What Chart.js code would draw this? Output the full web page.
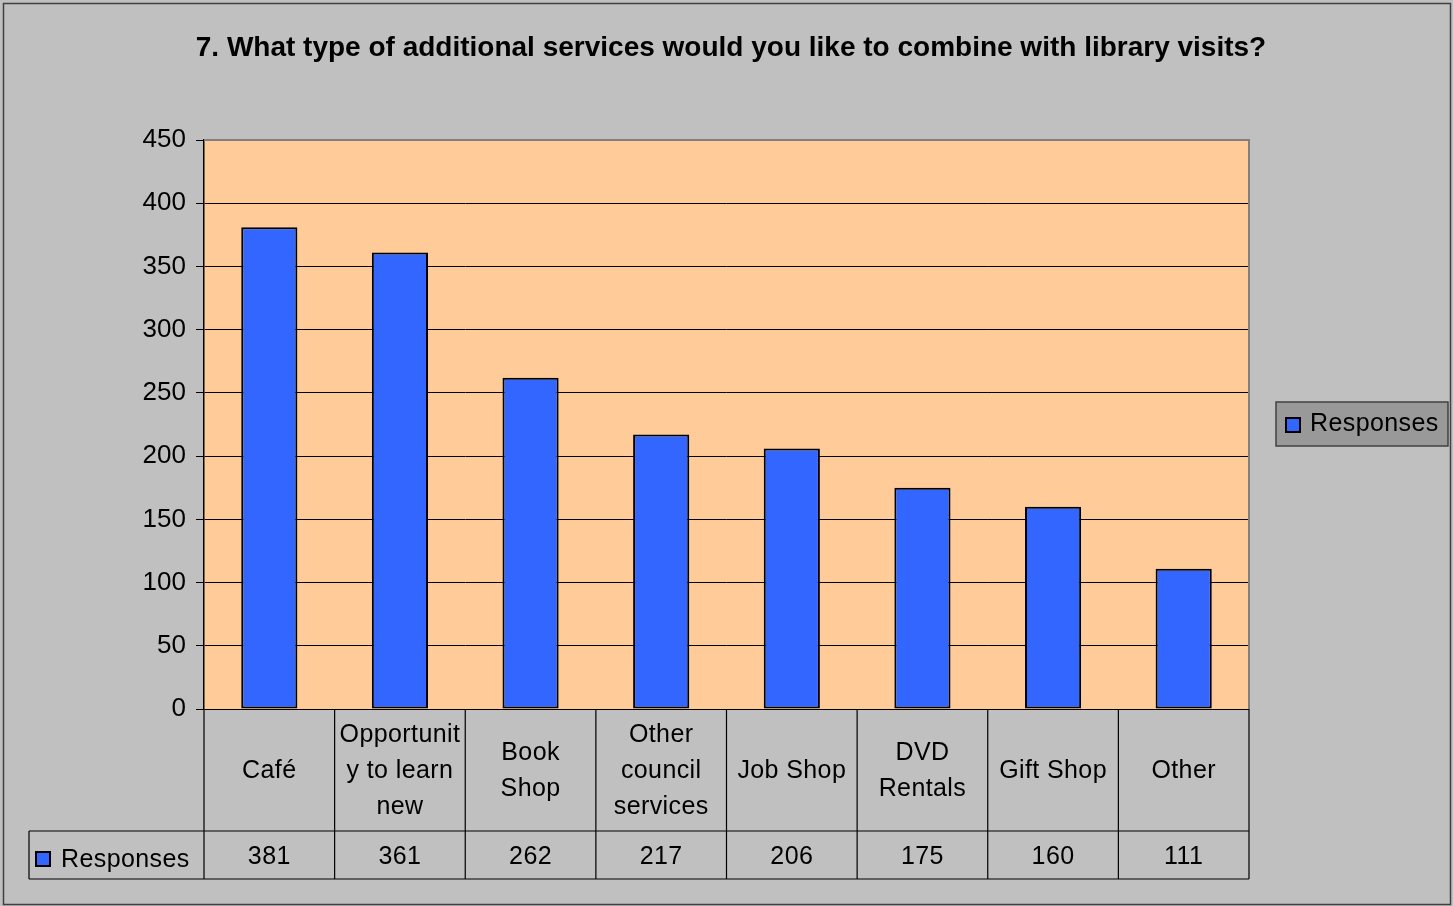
<!DOCTYPE html>
<html>
<head>
<meta charset="utf-8">
<script src="https://cdn.jsdelivr.net/npm/chart.js@4.4.1/dist/chart.umd.min.js"></script>
<style>
  html, body { margin: 0; padding: 0; background: #c0c0c0; }
  #wrap { width: 1453px; height: 906px; position: relative; }
</style>
</head>
<body>
<div id="wrap"><canvas id="chart" width="1453" height="906"></canvas></div>
<script>
// question title
const titleText = '7. What type of additional services would you like to combine with library visits?'

// categories as wrapped in the table cells
const categories = [
  ['Café'],
  ['Opportunit', 'y to learn', 'new'],
  ['Book', 'Shop'],
  ['Other', 'council', 'services'],
  ['Job Shop'],
  ['DVD', 'Rentals'],
  ['Gift Shop'],
  ['Other']
]

const seriesName = 'Responses'
const responses = [381, 361, 262, 217, 206, 175, 160, 111]

const yMax = 450
const yStep = 50

const FONT = '"Liberation Sans", Arial, sans-serif'
const BLUE = '#3366ff'

// background, plot fill, outer frame
const backdrop = {
  id: 'backdrop',
  beforeDraw(chart) {
    const ctx = chart.ctx
    const a = chart.chartArea
    ctx.save()
    ctx.fillStyle = '#c0c0c0'
    ctx.fillRect(0, 0, chart.width, chart.height)
    ctx.strokeStyle = '#404040'
    ctx.lineWidth = 1.5
    ctx.strokeRect(3.5, 3.5, chart.width - 6, chart.height - 5)
    ctx.fillStyle = '#ffcc99'
    ctx.fillRect(a.left, a.top, a.right - a.left, a.bottom - a.top)
    ctx.restore()
  }
}

function swatch(ctx, x, y) {
  ctx.fillStyle = BLUE
  ctx.fillRect(x, y, 14, 14)
  ctx.strokeStyle = '#000'
  ctx.lineWidth = 2
  ctx.strokeRect(x, y, 14, 14)
}

// title, data table, legend
const extras = {
  id: 'extras',
  afterDraw(chart) {
    const ctx = chart.ctx
    const a = chart.chartArea
    const x = chart.scales.x
    const half = (x.getPixelForValue(1) - x.getPixelForValue(0)) / 2
    ctx.save()

    // plot border (top/right grey)
    ctx.strokeStyle = '#808080'
    ctx.lineWidth = 2
    ctx.beginPath()
    ctx.moveTo(a.left, a.top)
    ctx.lineTo(a.right, a.top)
    ctx.lineTo(a.right, a.bottom)
    ctx.stroke()

    // title
    ctx.fillStyle = '#000'
    ctx.font = 'bold 28px ' + FONT
    ctx.textAlign = 'center'
    ctx.textBaseline = 'middle'
    ctx.fillText(titleText, 731, 48)

    // table grid
    const rowTop = a.bottom
    const rowMid = 831
    const rowBot = 879
    ctx.strokeStyle = '#000'
    ctx.lineWidth = 1.2
    ctx.beginPath()
    ctx.moveTo(29, rowMid); ctx.lineTo(a.right, rowMid)
    ctx.moveTo(29, rowBot); ctx.lineTo(a.right, rowBot)
    ctx.moveTo(29, rowMid); ctx.lineTo(29, rowBot)
    categories.forEach((c, i) => {
      const bx = x.getPixelForValue(i) - half
      ctx.moveTo(bx, rowTop); ctx.lineTo(bx, rowBot)
    })
    ctx.moveTo(a.right, rowTop); ctx.lineTo(a.right, rowBot)
    ctx.stroke()

    // category labels and values
    ctx.font = '25px ' + FONT
    ctx.letterSpacing = '0.4px'
    ctx.fillStyle = '#000'
    const lh = 36
    const midY = (rowTop + rowMid) / 2 + 1
    categories.forEach((lines, i) => {
      const cx = x.getPixelForValue(i)
      const y0 = midY - (lines.length - 1) * lh / 2
      lines.forEach((t, k) => ctx.fillText(t, cx, y0 + k * lh))
      ctx.fillText(String(responses[i]), cx, (rowMid + rowBot) / 2 + 2)
    })

    // series key in table
    swatch(ctx, 36, 852)
    ctx.textAlign = 'left'
    ctx.fillStyle = '#000'
    ctx.fillText(seriesName, 61, 860)

    // legend box
    ctx.fillStyle = '#999999'
    ctx.fillRect(1276, 402, 172, 44)
    ctx.strokeStyle = '#404040'
    ctx.lineWidth = 1.5
    ctx.strokeRect(1276, 402, 172, 44)
    swatch(ctx, 1286, 418)
    ctx.fillStyle = '#000'
    ctx.fillText(seriesName, 1310, 424)

    ctx.restore()
  }
}

new Chart(document.getElementById('chart'), {
  type: 'bar',
  data: {
    labels: categories.map(c => c.join(' ')),
    datasets: [{
      label: seriesName,
      data: responses,
      backgroundColor: BLUE,
      borderColor: '#000',
      borderWidth: 2,
      borderSkipped: false,
      categoryPercentage: 1,
      barPercentage: 0.43
    }]
  },
  options: {
    responsive: false,
    animation: false,
    devicePixelRatio: 1,
    layout: { padding: { left: 0, top: 140, right: 1453 - 1249, bottom: 906 - 709 } },
    plugins: {
      legend: { display: false },
      title: { display: false },
      tooltip: { enabled: false }
    },
    scales: {
      x: {
        display: false,
        grid: { display: false }
      },
      y: {
        min: 0,
        max: yMax,
        afterFit: s => { s.width = 204 },
        ticks: {
          stepSize: yStep,
          padding: 10,
          color: '#000',
          font: { family: FONT, size: 26 }
        },
        grid: { color: '#000', lineWidth: 1, tickLength: 8 },
        border: { color: '#000', width: 1.5 }
      }
    }
  },
  plugins: [backdrop, extras]
})
</script>
</body>
</html>
